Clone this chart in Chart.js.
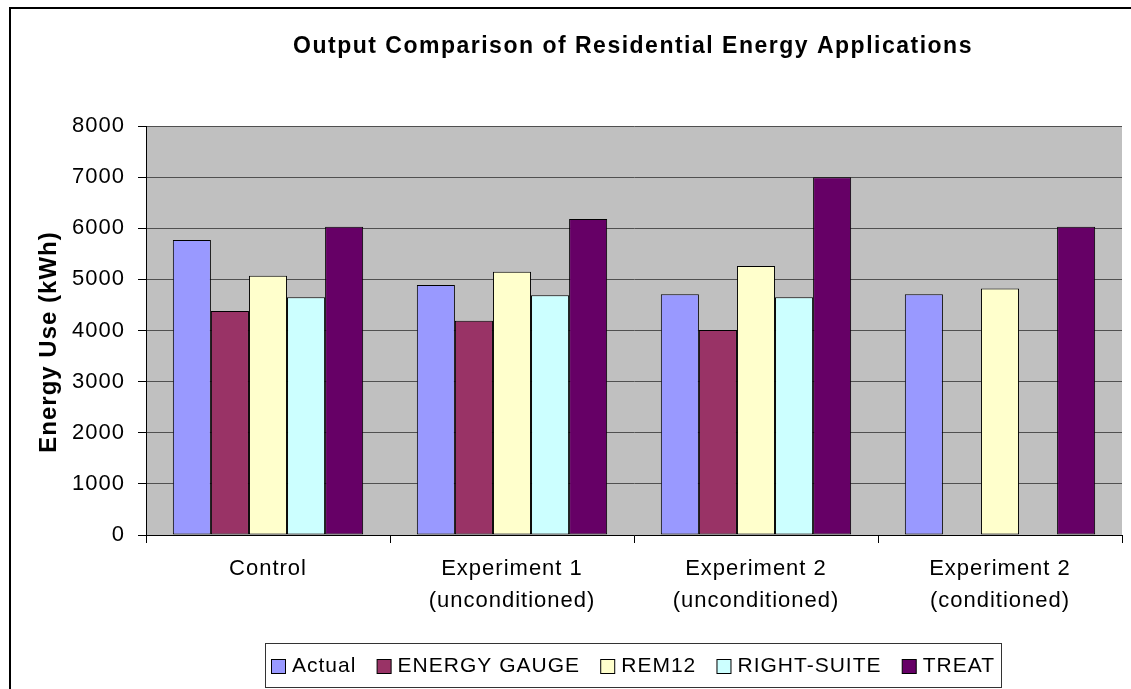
<!DOCTYPE html>
<html>
<head>
<meta charset="utf-8">
<script src="https://cdn.jsdelivr.net/npm/chart.js@4"></script>
<style>
  html, body { margin: 0; padding: 0; background: #fff; }
  #wrap { width: 1131px; height: 689px; }
</style>
</head>
<body>
<div id="wrap"><canvas id="c" width="1131" height="689"></canvas></div>
<script>
// データ
const categories = [
  'Control',
  ['Experiment 1', '(unconditioned)'],
  ['Experiment 2', '(unconditioned)'],
  ['Experiment 2', '(conditioned)'],
];
const actual      = [5770, 4890, 4710, 4710];
const energyGauge = [4380, 4190, 4010, null];
const rem12       = [5070, 5150, 5260, 4820];
const rightSuite  = [4650, 4690, 4650, null];
const treat       = [6030, 6180, 7000, 6030];
const yTicks = [0, 1000, 2000, 3000, 4000, 5000, 6000, 7000, 8000];
const TITLE = 'Output Comparison of Residential Energy Applications';

const FONT = "Arial, 'Liberation Sans', sans-serif";
Chart.defaults.font.family = FONT;
Chart.defaults.color = '#000';

// Excel風の字間
const spacing = {
  id: 'spacing',
  beforeLayout(chart) { chart.ctx.letterSpacing = '1px'; },
  beforeDraw(chart) { chart.ctx.letterSpacing = '1px'; },
};

// 背景・外枠・タイトル・凡例
const frame = {
  id: 'frame',
  beforeDraw(chart) {
    const { ctx, chartArea: a } = chart;
    ctx.save();
    ctx.fillStyle = '#fff';
    ctx.fillRect(0, 0, chart.width, chart.height);
    ctx.fillStyle = '#c0c0c0';
    ctx.fillRect(a.left, a.top, a.right - a.left, a.bottom - a.top);
    ctx.restore();
  },
  afterDraw(chart) {
    const { ctx } = chart;
    ctx.save();
    ctx.strokeStyle = '#000';
    ctx.lineWidth = 2;
    ctx.beginPath();
    ctx.moveTo(10, chart.height);
    ctx.lineTo(10, 8);
    ctx.lineTo(chart.width, 8);
    ctx.stroke();

    // タイトル
    ctx.letterSpacing = '1.5px';
    ctx.font = 'bold 23px ' + FONT;
    ctx.fillStyle = '#000';
    ctx.textAlign = 'center';
    ctx.textBaseline = 'middle';
    ctx.fillText(TITLE, 633, 47);

    // 凡例（枠付き）
    ctx.letterSpacing = '1px';
    const box = { x: 265, y: 643, w: 736, h: 44 };
    ctx.lineWidth = 1;
    ctx.strokeStyle = '#333';
    ctx.strokeRect(box.x + 0.5, box.y + 0.5, box.w, box.h);
    ctx.font = '21px ' + FONT;
    ctx.textAlign = 'left';
    const items = chart.data.datasets.map(ds => ({
      label: ds.label, color: ds.backgroundColor, w: ctx.measureText(ds.label).width,
    }));
    const sq = 14, gapIn = 7, margin = 6;
    const used = items.reduce((s, it) => s + sq + gapIn + it.w, 0);
    const gapOut = (box.w - 2 * margin - used) / (items.length - 1);
    let x = box.x + margin;
    const cy = box.y + box.h / 2 + 1;
    items.forEach(it => {
      ctx.fillStyle = it.color;
      ctx.fillRect(x + 0.5, cy - sq / 2 + 0.5, sq, sq);
      ctx.strokeStyle = '#000';
      ctx.strokeRect(x + 0.5, cy - sq / 2 + 0.5, sq, sq);
      ctx.fillStyle = '#000';
      ctx.fillText(it.label, x + sq + gapIn, cy);
      x += sq + gapIn + it.w + gapOut;
    });
    ctx.restore();
  },
};

const mk = (label, data, color) => ({
  label, data,
  backgroundColor: color,
  borderColor: '#000',
  borderWidth: 1,
  borderSkipped: false,
  categoryPercentage: 0.78,
  barPercentage: 1.0,
});

new Chart(document.getElementById('c'), {
  type: 'bar',
  data: {
    labels: categories,
    datasets: [
      mk('Actual', actual, '#9999ff'),
      mk('ENERGY GAUGE', energyGauge, '#993366'),
      mk('REM12', rem12, '#ffffcc'),
      mk('RIGHT-SUITE', rightSuite, '#ccffff'),
      mk('TREAT', treat, '#660066'),
    ],
  },
  options: {
    responsive: false,
    animation: false,
    layout: { padding: { left: 9, right: 9, top: 126, bottom: 74 } },
    plugins: {
      legend: { display: false },
      tooltip: { enabled: false },
      title: { display: false },
    },
    scales: {
      x: {
        afterFit: s => { s.height = 80; },
        grid: {
          offset: true,
          drawOnChartArea: false,
          tickLength: 8,
          tickColor: '#000',
        },
        border: { color: '#000', width: 1 },
        ticks: { font: { size: 22, lineHeight: 1.45 }, padding: 10, color: '#000', maxRotation: 0 },
      },
      y: {
        min: 0,
        max: 8000,
        afterFit: s => { s.width = 137; },
        afterBuildTicks: s => { s.ticks = yTicks.map(v => ({ value: v })); },
        grid: { color: '#505050', tickColor: '#000', tickLength: 8, lineWidth: 1 },
        border: { color: '#000', width: 1 },
        ticks: { font: { size: 22 }, padding: 13, color: '#000', callback: v => String(v) },
        title: {
          display: true,
          text: 'Energy Use (kWh)   ',
          font: { size: 24, weight: 'bold' },
          color: '#000',
          padding: { top: 26, bottom: 0 },
        },
      },
    },
  },
  plugins: [spacing, frame],
});
</script>
</body>
</html>
